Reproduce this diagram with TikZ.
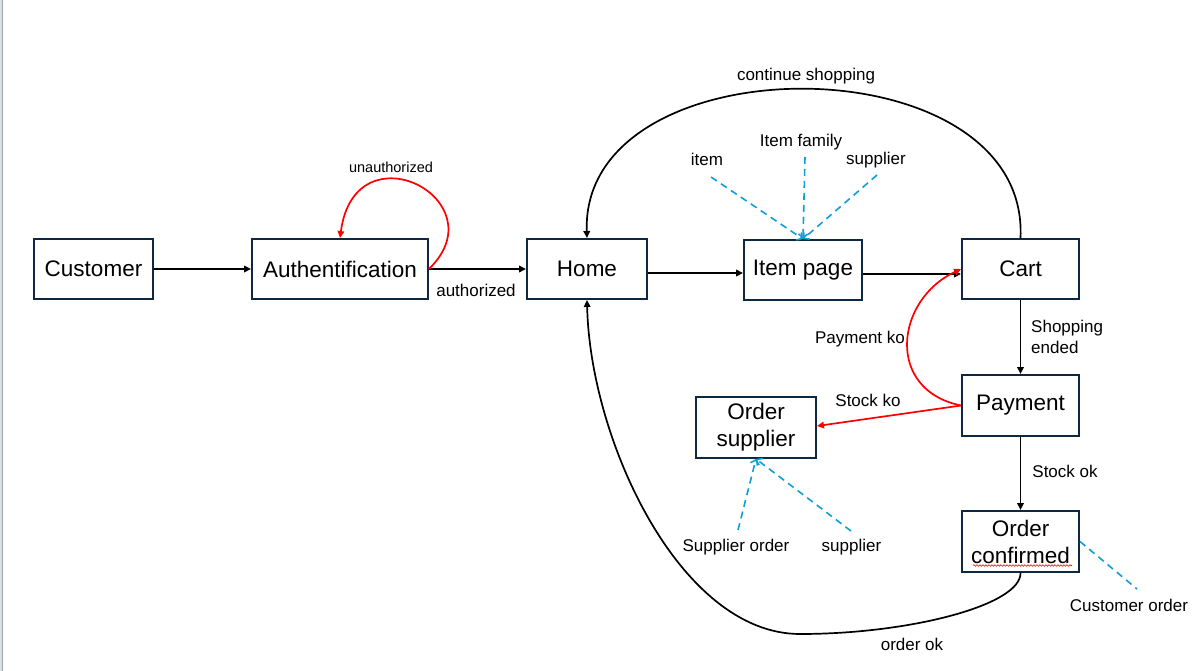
\documentclass[tikz,border=0pt]{standalone}
\usepackage{fontspec}
\setmainfont{Liberation Sans}
\usetikzlibrary{arrows.meta,decorations.pathmorphing}

\definecolor{boxnavy}{HTML}{0E2841}
\definecolor{linkblue}{HTML}{0F9ED5}
\definecolor{edgegray}{HTML}{D5E3E8}

\tikzset{
  screen/.style={draw=boxnavy, line width=1.9pt, inner sep=0pt,
    minimum height=60pt, align=center, font=\fontsize{22.5}{27}\selectfont},
  flow/.style={line width=1.7pt, -{Triangle[length=7pt,width=6.5pt]}},
  failflow/.style={flow, draw=red},
  attr/.style={draw=linkblue, line width=1.6pt, dash pattern=on 7pt off 5pt},
  attrtip/.style={attr, -{Straight Barb[length=4pt,width=9pt]}},
  lbl/.style={anchor=base, inner sep=0pt, font=\fontsize{17}{21}\selectfont},
  smalllbl/.style={lbl, font=\fontsize{14.5}{17}\selectfont},
  squiggle/.style={draw=red, line width=0.6pt,
    decorate, decoration={snake, amplitude=0.8pt, segment length=3pt}}
}

\begin{document}
\begin{tikzpicture}[x=1pt,y=-1pt]
    \useasboundingbox (0,0) rectangle (1199,671);
    % window edge
    \fill[edgegray] (0,0) rectangle (2,671);
    \draw[gray!70, line width=0.8pt] (2.6,0) -- (2.6,671);

    % screens
    \node[screen, minimum width=119pt] (customer) at (93.5,269) {Customer};
    \node[screen, minimum width=176pt] (auth) at (340,269) {Authentification};
    \node[screen, minimum width=120pt] (home) at (587,269) {Home};
    \node[screen, minimum width=118pt] (itempage) at (803,270) {Item page};
    \node[screen, minimum width=117pt] (cart) at (1020.5,269) {Cart};
    \node[screen, minimum width=117pt, minimum height=61pt] (payment)
      at (1020.5,405.5) {Payment};
    \node[screen, minimum width=120pt, minimum height=61pt] (ordersupplier)
      at (756,427.5) {Order\\supplier};
    \node[screen, minimum width=117pt, minimum height=61pt] (orderconfirmed)
      at (1020.5,541.5) {Order\\confirmed};
    % spell check line
    \draw[squiggle] ([xshift=-47.5pt,yshift=-24pt]orderconfirmed.center)
      -- ([xshift=51.5pt,yshift=-24pt]orderconfirmed.center);

    % main flow
    \draw[flow] (customer) -- (auth);
    \draw[flow] (auth.east) -- (home.west);
    \node[lbl] (authorizedlbl) at (476,296) {authorized};
    \draw[flow] ([yshift=-4pt]home.east) -- ([yshift=-4pt]home.east -| itempage.west);
    \draw[flow] ([yshift=-4pt]itempage.east) -- ([yshift=-4pt]itempage.east -| cart.west);
    \draw[flow] (cart.south) -- (payment.north);
    \node[lbl, anchor=north west, align=left] (endedlbl) at (1031,320)
      {Shopping\\ended};
    \draw[flow] (payment.south) -- (orderconfirmed.north);
    \node[lbl] (stockoklbl) at (1065,477.5) {Stock ok};

    % loops back
    \draw[failflow] (auth.east) .. controls (500,200) and (355,125) .. (auth.north);
    \node[smalllbl] (unauthlbl) at (391,173) {unauthorized};
    \draw[flow] (cart.north) .. controls (1030,40) and (580,40) .. (home.north);
    \node[lbl] (continuelbl) at (806,81) {continue shopping};
    \draw[failflow] (payment.west) .. controls (885,390) and (895,300) .. (cart.west);
    \node[lbl] (paykolbl) at (860,343) {Payment ko};
    \draw[failflow] (payment.west) -- (ordersupplier.east |- 0,426);
    \node[lbl] (stockkolbl) at (868,406.5) {Stock ko};
    \coordinate (okbottom) at (800,634);
    \draw[flow] (orderconfirmed.south) .. controls (1021,605) and (910,634) .. (okbottom)
      .. controls (680,634) and (590,440) .. (home.south);
    \node[lbl] (orderoklbl) at (912,650) {order ok};

    % data attached
    \coordinate (itemfrom) at (711,177);
    \coordinate (familyfrom) at (805,157);
    \coordinate (supplierfrom) at (877,175);
    \foreach \src in {itemfrom,familyfrom,supplierfrom}
      \draw[attrtip] (\src) -- (itempage.north);
    \node[lbl] (itemlbl) at (707,166) {item};
    \node[lbl] (familylbl) at (801,146.5) {Item family};
    \node[lbl] (supplierlbl) at (876,165) {supplier};

    \coordinate (suporderfrom) at (738,530);
    \coordinate (supplier2from) at (851,531);
    \foreach \src in {suporderfrom,supplier2from}
      \draw[attrtip] (\src) -- (ordersupplier.south);
    \node[lbl] (suporderlbl) at (736,551) {Supplier order};
    \node[lbl] (supplier2lbl) at (851.5,551.5) {supplier};

    \coordinate (custorderfrom) at (1137,589);
    \draw[attr] (orderconfirmed.east) -- (custorderfrom);
    \node[lbl] (custorderlbl) at (1129,611) {Customer order};
\end{tikzpicture}
\end{document}
